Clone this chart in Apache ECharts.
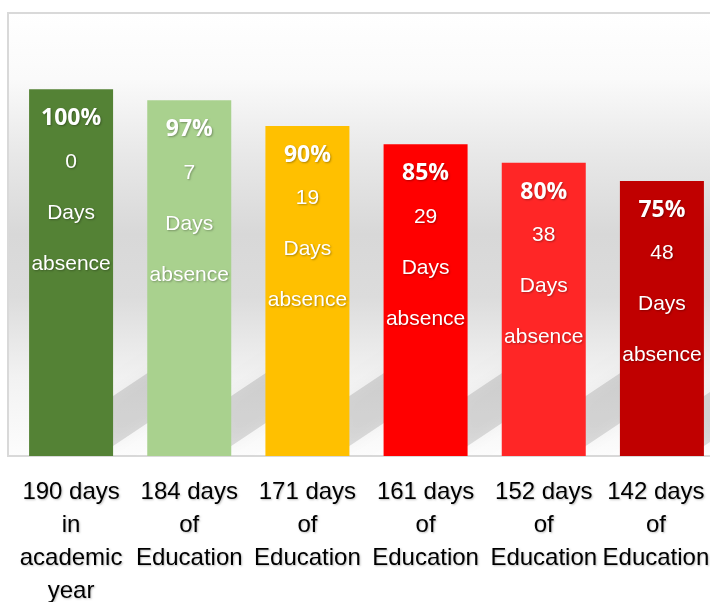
<!DOCTYPE html>
<html>
<head>
    <meta charset="utf-8">
    <title>Attendance</title>
    <script src="https://cdn.jsdelivr.net/npm/echarts@6/dist/echarts.min.js"></script>
    <style>
        html, body { margin: 0; padding: 0; background: #fff; }
        #chart { width: 710px; height: 602px; }
    </style>
</head>
<body>
<div id="chart"></div>
<script type="text/javascript">
    // data
    var categories = [
        '190 days\nin\nacademic\nyear',
        '184 days\nof\nEducation',
        '171 days\nof\nEducation',
        '161 days\nof\nEducation',
        '152 days\nof\nEducation',
        '142 days\nof\nEducation'
    ];
    var attendance = [100, 97, 90, 85, 80, 75];
    var absenceDays = [0, 7, 19, 29, 38, 48];
    var barColors = ['#548235', '#a9d18e', '#ffc000', '#ff0000', '#ff2626', '#c00000'];

    var myChart = echarts.init(document.getElementById('chart'));

    var shadowText = {
        textShadowColor: 'rgba(0,0,0,0.3)',
        textShadowBlur: 2,
        textShadowOffsetX: 1,
        textShadowOffsetY: 1
    };
    var catFont = {
        color: '#000',
        fontFamily: 'Liberation Sans',
        fontSize: 24,
        lineHeight: 33,
        textShadowColor: 'rgba(0,0,0,0.25)',
        textShadowBlur: 2,
        textShadowOffsetX: 1,
        textShadowOffsetY: 1
    };

    myChart.setOption({
        animation: false,
        backgroundColor: '#fff',
        graphic: [{
            type: 'rect',
            z: -10,
            shape: { x: 8, y: 13, width: 730, height: 443 },
            style: {
                fill: new echarts.graphic.LinearGradient(0, 0, 0, 1, [
                    { offset: 0, color: '#ffffff' },
                    { offset: 0.15, color: '#fafafa' },
                    { offset: 0.32, color: '#e8e8e8' },
                    { offset: 0.5, color: '#d8d8d8' },
                    { offset: 0.64, color: '#dcdcdc' },
                    { offset: 0.82, color: '#f2f2f2' },
                    { offset: 1, color: '#fdfdfd' }
                ]),
                stroke: '#d9d9d9',
                lineWidth: 2
            }
        }],
        grid: { left: 12, width: 709, top: 16, bottom: 146, outerBoundsMode: 'none', containLabel: false },
        xAxis: {
            type: 'category',
            data: categories,
            axisLine: { show: false },
            axisTick: { show: false },
            axisLabel: Object.assign({
                interval: 0,
                margin: 20,
                // last label is nudged left so it stays inside the picture
                formatter: function (value, index) {
                    var tag = index === categories.length - 1 ? 'e' : 'c';
                    return value.split('\n').map(function (s) {
                        return '{' + tag + '|' + s + '}';
                    }).join('\n');
                },
                rich: {
                    c: Object.assign({}, catFont),
                    e: Object.assign({ padding: [0, 12, 0, 0] }, catFont)
                }
            }, catFont)
        },
        yAxis: {
            type: 'value',
            min: 0,
            max: 120,
            show: false,
            splitLine: { show: false }
        },
        series: [
            {
                // soft cast shadows behind bars
                type: 'custom',
                z: 1,
                silent: true,
                clip: true,
                data: attendance.map(function (v, i) { return [i, v]; }),
                renderItem: function (params, api) {
                    var base = api.coord([api.value(0), 0]);
                    var xr = base[0] + 42;
                    var y0 = base[1];
                    return {
                        type: 'polygon',
                        shape: {
                            points: [
                                [xr - 6, y0 - 6],
                                [xr - 6, y0 - 56],
                                [xr + 60, y0 - 100],
                                [xr + 60, y0 - 50]
                            ]
                        },
                        style: {
                            fill: 'rgba(0,0,0,0.12)',
                            shadowBlur: 16,
                            shadowColor: 'rgba(0,0,0,0.25)'
                        }
                    };
                }
            },
            {
                type: 'bar',
                z: 3,
                barWidth: 84,
                data: attendance.map(function (v, i) {
                    return { value: v, itemStyle: { color: barColors[i] } };
                }),
                label: {
                    show: true,
                    position: 'insideTop',
                    distance: 12,
                    color: '#fff',
                    formatter: function (p) {
                        return '{p|' + attendance[p.dataIndex] + '%}\n{n|' + absenceDays[p.dataIndex] + '}\n{n|Days}\n{n|absence}';
                    },
                    rich: {
                        p: Object.assign({
                            fontFamily: 'Open Sans',
                            fontWeight: 'bold',
                            fontSize: 23,
                            lineHeight: 35,
                            color: '#fff'
                        }, shadowText),
                        n: Object.assign({
                            fontFamily: 'Liberation Sans',
                            fontSize: 21,
                            lineHeight: 51,
                            color: '#fff'
                        }, shadowText)
                    }
                }
            }
        ]
    });
</script>
</body>
</html>
